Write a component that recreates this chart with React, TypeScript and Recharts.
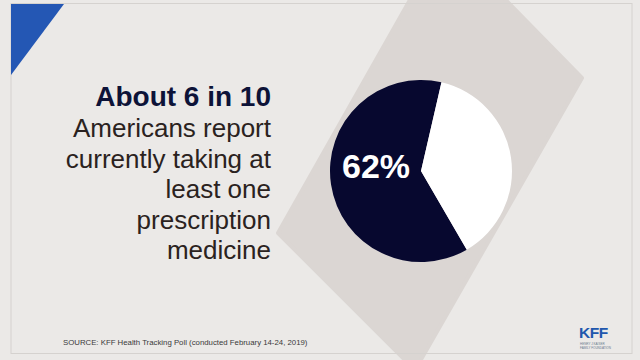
import React from 'react';
import { PieChart, Pie, Cell } from 'recharts';

const sliceNames = ['Taking a prescription medicine', 'Not taking'];
const sliceValues = [62, 38];
const sliceColors = ['#07082f', '#ffffff'];

const headline = 'About 6 in 10';
const bodyLines = ['Americans report', 'currently taking at', 'least one', 'prescription', 'medicine'];
const sourceNote = 'SOURCE: KFF Health Tracking Poll (conducted February 14-24, 2019)';

const pieData = sliceNames.map((name, i) => ({ name, value: sliceValues[i] }));

const FONT = '"Liberation Sans", Arial, Helvetica, sans-serif';
const RAD = Math.PI / 180;

function renderLabel(props: any) {
  const { cx, cy, outerRadius, midAngle, index, value } = props;
  if (index !== 0) return null;
  const r = outerRadius * 0.5;
  const x = cx + r * Math.cos(-midAngle * RAD);
  const y = cy + r * Math.sin(-midAngle * RAD) - 12;
  return (
    <text
      x={x}
      y={y}
      fill="#ffffff"
      textAnchor="middle"
      dominantBaseline="central"
      fontFamily={FONT}
      fontWeight={700}
      fontSize={34}
    >
      {`${value}%`}
    </text>
  );
}

export default function App() {
  return (
    <div
      style={{
        position: 'absolute',
        left: 0,
        top: 0,
        width: 640,
        height: 360,
        overflow: 'hidden',
        background: '#ebe9e7',
        fontFamily: FONT,
      }}
    >
      <svg width={640} height={360} style={{ position: 'absolute', left: 0, top: 0 }}>
        <polygon
          points="445,-62 582,78 415,370 278,233"
          fill="#dbd6d3"
          stroke="#dbd6d3"
          strokeWidth={4}
          strokeLinejoin="round"
        />
        <rect x={11} y={3.5} width={621} height={350} fill="none" stroke="#d5d2cf" strokeWidth={1} />
        <polygon points="11,4 64,4 11,75" fill="#2457b4" />

        <text
          x={271}
          y={106}
          textAnchor="end"
          fontFamily={FONT}
          fontWeight={700}
          fontSize={28}
          fill="#0d1338"
        >
          {headline}
        </text>
        {bodyLines.map((line, i) => (
          <text
            key={line}
            x={271}
            y={137 + i * 30.5}
            textAnchor="end"
            fontFamily={FONT}
            fontSize={26}
            fill="#2a2220"
          >
            {line}
          </text>
        ))}

        <text x={63} y={345} fontFamily={FONT} fontSize={7.8} fill="#3a3a3a">
          {sourceNote}
        </text>

        <text x={579} y={338} fontFamily={FONT} fontWeight={700} fontSize={15.5} fill="#2157ad" letterSpacing={-0.5}>
          KFF
        </text>
        <text x={580} y={345} fontFamily={FONT} fontSize={3} fill="#6a7a90">
          HENRY J KAISER
        </text>
        <text x={580} y={348.5} fontFamily={FONT} fontSize={3} fill="#6a7a90">
          FAMILY FOUNDATION
        </text>
      </svg>

      <PieChart
        width={640}
        height={360}
        margin={{ top: 0, right: 0, bottom: 0, left: 0 }}
        style={{ position: 'absolute', left: 0, top: 0 }}
      >
        <Pie
          data={pieData}
          dataKey="value"
          nameKey="name"
          cx={421}
          cy={171}
          outerRadius={91}
          startAngle={77}
          endAngle={437}
          stroke="none"
          labelLine={false}
          label={renderLabel}
          isAnimationActive={false}
        >
          {pieData.map((entry, i) => (
            <Cell key={entry.name} fill={sliceColors[i]} />
          ))}
        </Pie>
      </PieChart>
    </div>
  );
}
